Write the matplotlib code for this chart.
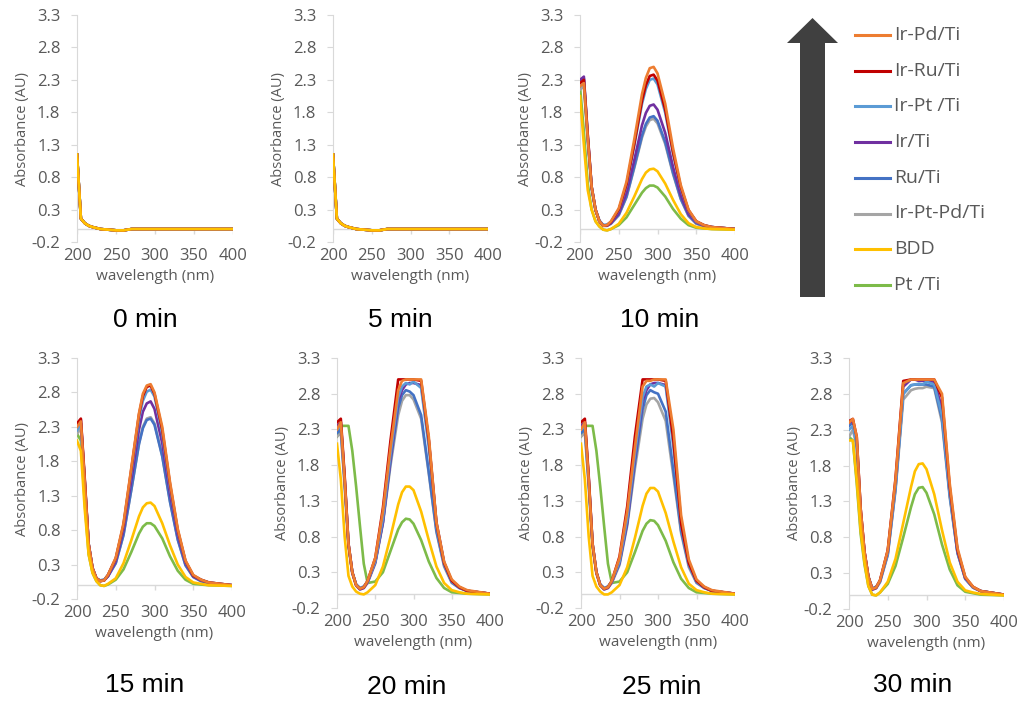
import matplotlib as mpl
mpl.use("agg")
import matplotlib.pyplot as plt
from matplotlib.patches import FancyArrow
from matplotlib.lines import Line2D

# wavelength grid (nm)
wl = [200, 205, 210, 215, 220, 225, 230, 235, 240, 250, 260, 270, 280, 285, 290, 295, 300, 310, 320, 330, 340, 350, 360, 370, 400]

names = ['Ir-Pd/Ti', 'Ir-Ru/Ti', 'Ir-Pt /Ti', 'Ir/Ti', 'Ru/Ti', 'Ir-Pt-Pd/Ti', 'BDD', 'Pt /Ti']
colors = ['#ED7D31', '#C00000', '#5B9BD5', '#7030A0', '#4472C4', '#A5A5A5', '#FFC000', '#7DBB49']

# 0 and 5 min: all electrodes give the same trace
base_0 = [1.15, 0.16, 0.09, 0.05, 0.03, 0.015, 0.0, -0.005, -0.01, -0.02, -0.02, 0.0, 0.0, 0.0, 0.0, 0.0, 0.0, 0.0, 0.0, 0.0, 0.0, 0.0, 0.0, 0.0, 0.0]
base_5 = [1.15, 0.16, 0.09, 0.05, 0.03, 0.015, 0.0, -0.005, -0.01, -0.02, -0.02, 0.0, 0.0, 0.0, 0.0, 0.0, 0.0, 0.0, 0.0, 0.0, 0.0, 0.0, 0.0, 0.0, 0.0]

# 10 min
m10_ir_pd = [2.2, 2.25, 1.4, 0.65, 0.3, 0.12, 0.05, 0.06, 0.12, 0.32, 0.73, 1.38, 2.08, 2.33, 2.48, 2.5, 2.4, 1.93, 1.25, 0.68, 0.3, 0.12, 0.06, 0.03, 0.0]
m10_ir_ru = [2.25, 2.3, 1.45, 0.65, 0.3, 0.12, 0.05, 0.06, 0.11, 0.3, 0.69, 1.31, 1.98, 2.22, 2.36, 2.38, 2.29, 1.84, 1.19, 0.65, 0.29, 0.12, 0.06, 0.03, 0.0]
m10_ir_pt = [2.2, 2.25, 1.4, 0.65, 0.3, 0.13, 0.06, 0.07, 0.11, 0.29, 0.67, 1.28, 1.93, 2.16, 2.3, 2.32, 2.23, 1.79, 1.16, 0.63, 0.28, 0.11, 0.06, 0.03, 0.0]
m10_ir = [2.3, 2.35, 1.45, 0.65, 0.3, 0.12, 0.05, 0.05, 0.09, 0.24, 0.56, 1.06, 1.6, 1.79, 1.9, 1.92, 1.84, 1.48, 0.96, 0.52, 0.23, 0.1, 0.05, 0.03, 0.0]
m10_ru = [2.3, 2.32, 1.4, 0.65, 0.3, 0.13, 0.06, 0.06, 0.09, 0.22, 0.5, 0.96, 1.44, 1.62, 1.72, 1.74, 1.67, 1.34, 0.87, 0.47, 0.21, 0.09, 0.05, 0.03, 0.0]
m10_ir_pt_pd = [2.15, 2.2, 1.35, 0.62, 0.28, 0.12, 0.05, 0.05, 0.08, 0.21, 0.49, 0.94, 1.41, 1.58, 1.68, 1.7, 1.63, 1.31, 0.85, 0.46, 0.2, 0.08, 0.04, 0.02, 0.0]
m10_bdd = [2.05, 1.3, 0.6, 0.3, 0.12, 0.04, -0.01, -0.02, 0.0, 0.08, 0.25, 0.5, 0.77, 0.87, 0.92, 0.93, 0.89, 0.7, 0.45, 0.23, 0.09, 0.03, 0.01, 0.0, -0.01]
m10_pt = [2.2, 1.5, 0.7, 0.3, 0.12, 0.04, -0.01, -0.02, 0.0, 0.06, 0.18, 0.37, 0.56, 0.63, 0.67, 0.67, 0.64, 0.5, 0.31, 0.16, 0.06, 0.02, 0.01, 0.0, -0.01]

# 15 min
m15_ir_pd = [2.3, 2.38, 1.5, 0.6, 0.25, 0.1, 0.06, 0.07, 0.15, 0.4, 0.9, 1.7, 2.5, 2.78, 2.9, 2.92, 2.8, 2.3, 1.5, 0.82, 0.36, 0.15, 0.08, 0.04, 0.0]
m15_ir_ru = [2.35, 2.42, 1.55, 0.6, 0.25, 0.1, 0.06, 0.07, 0.15, 0.39, 0.88, 1.68, 2.48, 2.75, 2.88, 2.9, 2.78, 2.26, 1.47, 0.8, 0.35, 0.14, 0.08, 0.04, 0.0]
m15_ir_pt = [2.25, 2.35, 1.5, 0.6, 0.25, 0.1, 0.07, 0.08, 0.15, 0.38, 0.86, 1.63, 2.42, 2.68, 2.81, 2.84, 2.74, 2.2, 1.42, 0.78, 0.34, 0.14, 0.08, 0.04, 0.0]
m15_ir = [2.3, 2.4, 1.52, 0.6, 0.25, 0.1, 0.06, 0.07, 0.13, 0.35, 0.8, 1.52, 2.26, 2.52, 2.64, 2.67, 2.56, 2.06, 1.33, 0.73, 0.32, 0.13, 0.07, 0.04, 0.0]
m15_ru = [2.3, 2.35, 1.5, 0.6, 0.25, 0.1, 0.07, 0.08, 0.13, 0.32, 0.73, 1.38, 2.05, 2.28, 2.4, 2.42, 2.33, 1.87, 1.21, 0.66, 0.29, 0.12, 0.06, 0.03, 0.0]
m15_ir_pt_pd = [2.2, 2.28, 1.45, 0.58, 0.24, 0.1, 0.06, 0.07, 0.13, 0.32, 0.73, 1.38, 2.06, 2.3, 2.42, 2.44, 2.35, 1.88, 1.22, 0.67, 0.29, 0.12, 0.06, 0.03, 0.0]
m15_bdd = [2.1, 1.95, 1.1, 0.45, 0.18, 0.06, 0.0, -0.01, 0.02, 0.1, 0.32, 0.65, 1.0, 1.13, 1.19, 1.2, 1.15, 0.9, 0.58, 0.3, 0.12, 0.04, 0.02, 0.0, -0.01]
m15_pt = [2.2, 2.1, 1.2, 0.45, 0.18, 0.06, 0.0, -0.01, 0.01, 0.08, 0.23, 0.48, 0.75, 0.85, 0.9, 0.9, 0.86, 0.68, 0.42, 0.21, 0.08, 0.02, 0.01, 0.0, -0.01]

# 20 min
m20_ir_pd = [2.3, 2.4, 1.6, 0.7, 0.3, 0.12, 0.07, 0.09, 0.18, 0.5, 1.15, 2.05, 2.85, 2.98, 3.0, 3.0, 3.0, 3.0, 2.2, 1.0, 0.45, 0.2, 0.1, 0.05, 0.0]
m20_ir_ru = [2.4, 2.45, 1.65, 0.7, 0.3, 0.12, 0.07, 0.09, 0.18, 0.5, 1.2, 2.15, 3.0, 3.0, 3.0, 3.0, 3.0, 2.98, 2.15, 0.98, 0.43, 0.18, 0.09, 0.04, 0.0]
m20_ir_pt = [2.3, 2.35, 1.6, 0.7, 0.3, 0.13, 0.08, 0.1, 0.17, 0.45, 1.05, 1.95, 2.75, 2.9, 2.95, 2.93, 2.97, 2.88, 2.05, 0.95, 0.42, 0.17, 0.09, 0.04, 0.0]
m20_ir = [2.35, 2.4, 1.62, 0.7, 0.3, 0.12, 0.06, 0.08, 0.16, 0.44, 1.0, 1.9, 2.7, 2.85, 2.93, 2.95, 2.95, 2.92, 2.15, 1.0, 0.44, 0.18, 0.09, 0.04, 0.0]
m20_ru = [2.25, 2.3, 1.55, 0.68, 0.3, 0.13, 0.08, 0.1, 0.17, 0.44, 1.0, 1.85, 2.6, 2.78, 2.85, 2.83, 2.78, 2.5, 1.7, 0.88, 0.4, 0.16, 0.08, 0.04, 0.0]
m20_ir_pt_pd = [2.2, 2.25, 1.5, 0.66, 0.28, 0.11, 0.06, 0.08, 0.15, 0.42, 0.98, 1.8, 2.5, 2.7, 2.78, 2.78, 2.72, 2.45, 1.68, 0.86, 0.38, 0.15, 0.08, 0.04, 0.0]
m20_bdd = [2.1, 1.6, 0.8, 0.25, 0.1, 0.03, 0.0, -0.01, 0.02, 0.12, 0.38, 0.8, 1.25, 1.42, 1.5, 1.5, 1.45, 1.15, 0.75, 0.38, 0.15, 0.05, 0.02, 0.0, -0.01]
m20_pt = [2.2, 2.35, 2.35, 2.35, 2.0, 1.5, 0.95, 0.42, 0.15, 0.17, 0.3, 0.6, 0.9, 1.0, 1.05, 1.04, 0.98, 0.75, 0.45, 0.22, 0.08, 0.02, 0.01, 0.0, -0.01]

# 25 min
m25_ir_pd = [2.3, 2.4, 1.6, 0.7, 0.3, 0.12, 0.07, 0.09, 0.18, 0.5, 1.15, 2.05, 2.9, 2.98, 2.98, 3.0, 3.0, 3.0, 2.3, 1.1, 0.48, 0.2, 0.1, 0.05, 0.0]
m25_ir_ru = [2.4, 2.45, 1.65, 0.7, 0.3, 0.12, 0.07, 0.09, 0.18, 0.52, 1.22, 2.2, 3.0, 3.0, 3.0, 3.0, 3.0, 2.98, 2.15, 0.98, 0.43, 0.18, 0.09, 0.04, 0.0]
m25_ir_pt = [2.3, 2.35, 1.6, 0.7, 0.3, 0.13, 0.08, 0.1, 0.17, 0.45, 1.05, 1.95, 2.75, 2.9, 2.93, 2.9, 2.95, 2.9, 2.05, 0.95, 0.42, 0.17, 0.09, 0.04, 0.0]
m25_ir = [2.35, 2.4, 1.62, 0.7, 0.3, 0.12, 0.06, 0.08, 0.16, 0.44, 1.0, 1.9, 2.7, 2.85, 2.93, 2.95, 2.95, 2.92, 2.2, 1.02, 0.44, 0.18, 0.09, 0.04, 0.0]
m25_ru = [2.25, 2.3, 1.55, 0.68, 0.3, 0.13, 0.08, 0.1, 0.17, 0.42, 0.98, 1.82, 2.58, 2.78, 2.85, 2.82, 2.8, 2.55, 1.72, 0.88, 0.4, 0.16, 0.08, 0.04, 0.0]
m25_ir_pt_pd = [2.2, 2.25, 1.5, 0.66, 0.28, 0.11, 0.06, 0.08, 0.15, 0.4, 0.95, 1.75, 2.45, 2.65, 2.73, 2.74, 2.68, 2.42, 1.65, 0.85, 0.37, 0.15, 0.08, 0.04, 0.0]
m25_bdd = [2.1, 1.6, 0.8, 0.25, 0.1, 0.03, -0.01, -0.01, 0.02, 0.12, 0.37, 0.78, 1.23, 1.4, 1.48, 1.48, 1.43, 1.13, 0.73, 0.37, 0.14, 0.05, 0.02, 0.0, -0.01]
m25_pt = [2.2, 2.35, 2.35, 2.35, 2.0, 1.5, 0.95, 0.42, 0.15, 0.17, 0.3, 0.58, 0.88, 0.98, 1.03, 1.02, 0.96, 0.74, 0.44, 0.21, 0.08, 0.02, 0.01, 0.0, -0.01]

# 30 min
m30_ir_pd = [2.4, 2.45, 2.2, 1.2, 0.6, 0.25, 0.08, 0.1, 0.2, 0.62, 1.6, 2.95, 3.0, 3.0, 3.0, 3.0, 3.0, 3.0, 2.8, 1.55, 0.65, 0.25, 0.11, 0.05, 0.0]
m30_ir_ru = [2.42, 2.45, 2.2, 1.2, 0.6, 0.25, 0.08, 0.1, 0.2, 0.62, 1.62, 2.98, 3.0, 3.0, 3.0, 3.0, 3.0, 3.0, 2.75, 1.5, 0.62, 0.24, 0.11, 0.05, 0.0]
m30_ir_pt = [2.3, 2.35, 2.1, 1.15, 0.58, 0.25, 0.08, 0.1, 0.18, 0.58, 1.5, 2.8, 2.92, 2.93, 2.94, 2.93, 2.97, 2.93, 2.5, 1.4, 0.6, 0.23, 0.1, 0.05, 0.0]
m30_ir = [2.4, 2.42, 2.15, 1.2, 0.6, 0.25, 0.07, 0.09, 0.19, 0.6, 1.55, 2.9, 3.0, 3.0, 2.98, 2.98, 2.98, 2.97, 2.6, 1.45, 0.6, 0.23, 0.1, 0.05, 0.0]
m30_ru = [2.35, 2.4, 2.1, 1.15, 0.58, 0.25, 0.09, 0.11, 0.19, 0.56, 1.48, 2.8, 2.92, 2.93, 2.93, 2.93, 2.93, 2.9, 2.45, 1.38, 0.58, 0.22, 0.1, 0.05, 0.0]
m30_ir_pt_pd = [2.2, 2.3, 2.05, 1.1, 0.55, 0.24, 0.07, 0.09, 0.17, 0.55, 1.45, 2.72, 2.85, 2.87, 2.88, 2.88, 2.9, 2.88, 2.4, 1.35, 0.58, 0.22, 0.1, 0.05, 0.0]
m30_bdd = [2.15, 2.15, 1.6, 0.9, 0.45, 0.12, 0.0, -0.01, 0.03, 0.18, 0.5, 1.0, 1.5, 1.72, 1.82, 1.83, 1.75, 1.4, 0.9, 0.45, 0.18, 0.06, 0.03, 0.01, -0.01]
m30_pt = [2.2, 2.15, 1.55, 0.85, 0.42, 0.12, 0.0, -0.01, 0.03, 0.15, 0.4, 0.8, 1.22, 1.4, 1.49, 1.5, 1.42, 1.12, 0.7, 0.35, 0.13, 0.04, 0.02, 0.0, -0.01]

panel_titles = ['0 min', '5 min', '10 min', '15 min', '20 min', '25 min', '30 min']
panel_data = [
    [base_0] * 8,
    [base_5] * 8,
    [m10_ir_pd, m10_ir_ru, m10_ir_pt, m10_ir, m10_ru, m10_ir_pt_pd, m10_bdd, m10_pt],
    [m15_ir_pd, m15_ir_ru, m15_ir_pt, m15_ir, m15_ru, m15_ir_pt_pd, m15_bdd, m15_pt],
    [m20_ir_pd, m20_ir_ru, m20_ir_pt, m20_ir, m20_ru, m20_ir_pt_pd, m20_bdd, m20_pt],
    [m25_ir_pd, m25_ir_ru, m25_ir_pt, m25_ir, m25_ru, m25_ir_pt_pd, m25_bdd, m25_pt],
    [m30_ir_pd, m30_ir_ru, m30_ir_pt, m30_ir, m30_ru, m30_ir_pt_pd, m30_bdd, m30_pt],
]

yticks = [-0.2, 0.3, 0.8, 1.3, 1.8, 2.3, 2.8, 3.3]
xticks = [200, 250, 300, 350, 400]

W, H = 1023, 702
# plot boxes in pixels: left, right, top, bottom
boxes = [(77, 233, 15, 242), (333, 488, 15, 242), (580, 735, 15, 242),
         (77, 232, 358, 599), (337, 490, 358, 608), (581, 735, 358, 608), (849, 1004, 358, 609)]
title_pos = [(145, 320), (400, 320), (660, 320), (145, 685), (407, 687), (662, 687), (913, 685)]

grey = '#D9D9D9'
txt = '#595959'
font = 'Open Sans'

fig = plt.figure(figsize=(W / 100, H / 100), dpi=100)
fig.patch.set_facecolor('white')

# draw order: green at the back, BDD on top
order = [7, 5, 4, 3, 2, 1, 0, 6]

for k in range(7):
    l, r, t, b = boxes[k]
    ax = fig.add_axes([l / W, 1 - b / H, (r - l) / W, (b - t) / H])
    ax.patch.set_alpha(0)
    for i in order:
        ax.plot(wl, panel_data[k][i], color=colors[i], lw=1.9, solid_joinstyle='round', zorder=3)
    ax.set_xlim(200, 400)
    ax.set_ylim(-0.2, 3.3)
    ax.set_yticks(yticks)
    ax.set_yticklabels(['%.1f' % v for v in yticks])
    ax.set_xticks(xticks)
    for s in ['top', 'right', 'bottom']:
        ax.spines[s].set_visible(False)
    ax.spines['left'].set_color(grey)
    ax.axhline(0, color=grey, lw=1, zorder=1)
    ax.vlines(xticks, -0.07, 0, color=grey, lw=1, zorder=1)
    ax.tick_params(axis='y', length=4, color=grey, pad=8, labelsize=12, labelcolor=txt)
    ax.tick_params(axis='x', length=0, pad=4, labelsize=12, labelcolor=txt)
    for lab in ax.get_xticklabels() + ax.get_yticklabels():
        lab.set_family(font)
    ax.set_ylabel('Absorbance (AU)', fontsize=10.5, color=txt, family=font, labelpad=1)
    ax.set_xlabel('wavelength (nm)', fontsize=11, color=txt, family=font, labelpad=4)
    fig.text(title_pos[k][0] / W, 1 - title_pos[k][1] / H, panel_titles[k], fontsize=19,
             family='Liberation Sans', ha='center', va='center', color='black')

# legend with the big arrow
lg = fig.add_axes([0, 0, 1, 1])
lg.set_xlim(0, W)
lg.set_ylim(H, 0)
lg.axis('off')
lg.patch.set_alpha(0)
lg.add_patch(FancyArrow(812.5, 297, 0, -279, width=25, head_width=51, head_length=25,
                        length_includes_head=True, color='#404040', lw=0))
row0, step = 35, 35.7
for i, name in enumerate(names):
    y = row0 + i * step
    lg.add_line(Line2D([855, 890], [y, y], color=colors[i], lw=2.2))
    lg.text(894, y, name, fontsize=14, family=font, color=txt, va='center', ha='left')

plt.savefig('out.png', dpi=100)
